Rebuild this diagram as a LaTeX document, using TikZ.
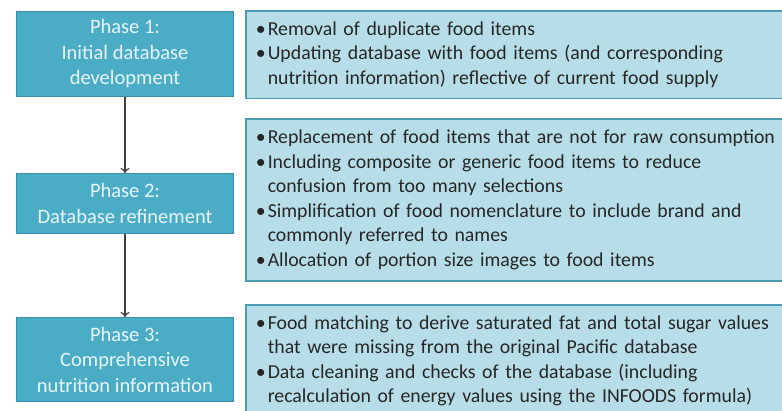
\documentclass[tikz,border=0pt]{standalone}
\usepackage{fontspec}
\setmainfont{Carlito}
\usetikzlibrary{arrows.meta}
\definecolor{phasefill}{HTML}{4BACC6}
\definecolor{phaseline}{HTML}{3A8EA8}
\definecolor{infofill}{HTML}{B7DEE8}
\definecolor{infoline}{HTML}{4A9DB5}
\definecolor{phasetext}{HTML}{E8F5F9}
\definecolor{bodytext}{HTML}{262626}
\newcommand{\bul}{\par\hangindent=12pt\hangafter=1\noindent\makebox[12pt][l]{•}}
\newcommand{\infoend}{\par\vspace{11pt}}
\tikzset{
  phasebox/.style={draw=phaseline, line width=1pt, fill=phasefill, text=phasetext,
    minimum width=217pt, align=center, font=\fontsize{20.5}{25.5}\selectfont, inner sep=0pt, anchor=north west},
  infobox/.style={draw=infoline, line width=1.5pt, fill=infofill, text=bodytext,
    minimum width=545pt, text width=525pt, font=\fontsize{19.8}{24.5}\selectfont\raggedright,
    inner xsep=10pt, inner ysep=0pt, anchor=north west},
  flow/.style={draw=black!75, line width=1.2pt, -{To[length=5pt,width=9pt]}}
}
\begin{document}
\begin{tikzpicture}[x=1pt,y=1pt]
\clip (0,0) rectangle (782,-410);
\fill[white] (0,0) rectangle (782,-410);
\node[phasebox, minimum height=85pt] (p1) at (16,-11) {Phase 1:\\Initial database\\development};
\node[phasebox, minimum height=60pt] (p2) at (16,-173) {Phase 2:\\Database refinement};
\node[phasebox, minimum height=84pt] (p3) at (16,-317) {Phase 3:\\Comprehensive\\nutrition information};
\node[infobox, minimum height=86pt] (i1) at (245,-10) {\bul Removal of duplicate food items
\bul Updating database with food items (and corresponding\newline nutrition information) reflective of current food supply\infoend};
\node[infobox, minimum height=162pt] (i2) at (245,-118) {\bul Replacement of food items that are not for raw consumption
\bul Including composite or generic food items to reduce\newline confusion from too many selections
\bul Simplification of food nomenclature to include brand and\newline commonly referred to names
\bul Allocation of portion size images to food items\infoend};
\node[infobox, minimum height=112pt] (i3) at (245,-304) {\bul Food matching to derive saturated fat and total sugar values\newline that were missing from the original Pacific database
\bul Data cleaning and checks of the database (including\newline recalculation of energy values using the INFOODS formula)\par\vspace{23pt}};
\draw[flow] (p1.south) -- (p2.north);
\draw[flow] (p2.south) -- (p3.north);
\end{tikzpicture}
\end{document}
